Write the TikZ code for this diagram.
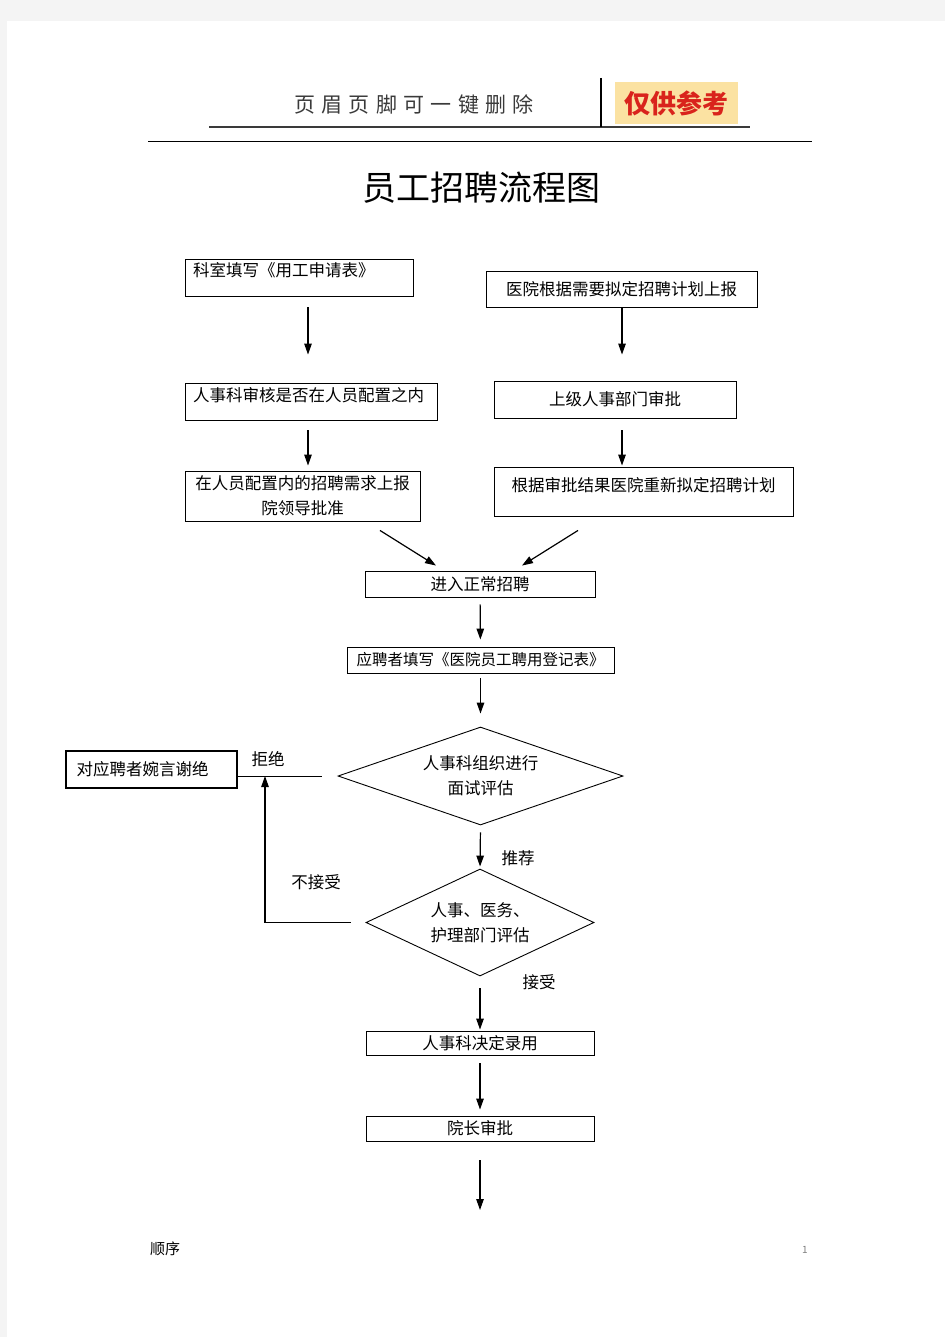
\documentclass[tikz,border=0pt]{standalone}
\usepackage{fontspec}
\setmainfont{Noto Sans CJK SC}
\usetikzlibrary{shapes.geometric,arrows.meta}
\definecolor{pagegray}{HTML}{F4F4F4}
\definecolor{tagfill}{HTML}{FBE2A2}
\definecolor{tagred}{HTML}{D9231C}
\definecolor{headgray}{HTML}{3A3A3A}
\begin{document}
\begin{tikzpicture}[x=1pt,y=-1pt,
    font=\fontsize{16.5}{25}\selectfont,
    box/.style={draw,line width=0.9pt,inner sep=0pt,align=center},
    topbox/.style={box,align=left,inner xsep=8pt,inner ysep=4.5pt,text height=13.5pt,text depth=14.5pt},
    choice/.style={draw,line width=0.9pt,diamond,inner sep=0pt,align=center},
    arrow/.style={line width=1.2pt,-{Triangle[length=11pt,width=7.5pt]}},
    lbl/.style={inner sep=0pt}]
  \useasboundingbox (0,0) rectangle (945,1337);
  \fill[pagegray] (0,0) rectangle (945,1337);
  \fill[white] (7,21) rectangle (945,1337);
  \draw[line width=2pt,headgray] (209,127) -- (750,127);
  \draw[line width=2pt,black] (601,78) -- (601,127);
  \node[headgray,font=\fontsize{21}{21}\addfontfeature{LetterSpace=30}\selectfont] (hdr) at (414,105) {页眉页脚可一键删除};
  \node[fill=tagfill,minimum width=123pt,minimum height=42pt,inner sep=0pt,text=tagred,font=\fontsize{26}{26}\bfseries\selectfont] (tag) at (676.5,103) {仅供参考};
  \draw[line width=1pt] (148,142) -- (812,142);
  \node[font=\fontsize{34}{34}\selectfont] (title) at (481,188) {员工招聘流程图};

  \node[topbox,text width=212pt] (A) at (299,277.5) {科室填写《用工申请表》};
  \node[box,minimum width=271pt,minimum height=36pt] (B) at (621.5,289) {医院根据需要拟定招聘计划上报};
  \node[topbox,text width=236pt] (C) at (311,401.5) {人事科审核是否在人员配置之内};
  \node[box,minimum width=242pt,minimum height=37pt] (D) at (615,399.5) {上级人事部门审批};
  \node[box,minimum width=235pt,minimum height=50pt] (E) at (302.5,496) {在人员配置内的招聘需求上报\\院领导批准};
  \node[box,minimum width=299pt,inner ysep=4.5pt,text height=19.5pt,text depth=20.5pt] (F) at (643.5,491.5) {根据审批结果医院重新拟定招聘计划};
  \node[box,minimum width=230pt,minimum height=26pt] (G) at (480,584) {进入正常招聘};
  \node[box,minimum width=267pt,minimum height=26pt,font=\fontsize{15.5}{25}\selectfont] (H) at (480.5,660) {应聘者填写《医院员工聘用登记表》};
  \node[choice,aspect=2.9,minimum width=285pt,minimum height=98pt] (I) at (480.5,776) {人事科组织进行\\面试评估};
  \node[box,line width=1.6pt,minimum width=171pt,minimum height=37pt,text width=150pt,align=left] (J) at (151.5,769.5) {对应聘者婉言谢绝};
  \node[choice,aspect=2.13,minimum width=228pt,minimum height=107pt] (K) at (480,922.5) {人事、医务、\\护理部门评估};
  \node[box,minimum width=228pt,minimum height=24pt] (L) at (480,1043) {人事科决定录用};
  \node[box,minimum width=228pt,minimum height=25pt] (M) at (480,1128.5) {院长审批};
  \coordinate (rej) at (265,776);
  \coordinate (end) at (480,1210);

  \draw[arrow,shorten <=11pt,shorten >=28pt] ([xshift=9pt]A.south) -- ([xshift=-3pt]C.north);
  \draw[arrow,shorten <=1pt,shorten >=26pt] ([xshift=0.5pt]B.south) -- ([xshift=7pt]D.north);
  \draw[arrow,shorten <=10pt,shorten >=5pt] ([xshift=-3pt]C.south) -- ([xshift=5.5pt]E.north);
  \draw[arrow,shorten <=12pt,shorten >=1pt] ([xshift=7pt]D.south) -- ([xshift=-21.5pt]F.north);
  \draw[arrow] ([xshift=77.5pt,yshift=-9pt]E.south) -- ([xshift=-44pt,yshift=5pt]G.north);
  \draw[arrow] ([xshift=-65.5pt,yshift=-14pt]F.south) -- ([xshift=42pt,yshift=5pt]G.north);
  \draw[arrow,shorten <=7pt,shorten >=7pt] (G) -- (H);
  \draw[arrow,shorten <=5pt,shorten >=13pt] (H.south) -- (I.north);
  \draw[arrow,shorten <=7pt,shorten >=2pt] (I.south) -- (K.north);
  \draw[arrow,shorten <=12pt,shorten >=1pt] (K.south) -- (L.north);
  \draw[arrow,shorten <=8pt,shorten >=6pt] (L) -- (M);
  \draw[arrow,shorten <=19pt] (M.south) -- (end);
  \draw[line width=1pt,shorten <=16pt] (I.west) -- (J.east |- I.west);
  \draw[arrow,shorten <=15pt] (K.west) -| (rej);

  \node[lbl] (l1) at (268,759) {拒绝};
  \node[lbl] (l2) at (518,858) {推荐};
  \node[lbl] (l3) at (316,882) {不接受};
  \node[lbl] (l4) at (539,982) {接受};
  \node[lbl,font=\fontsize{15}{15}\selectfont] (foot) at (165,1249) {顺序};
  \node[lbl,gray,font=\fontsize{10}{10}\selectfont] (page) at (805,1250) {1};
\end{tikzpicture}
\end{document}
